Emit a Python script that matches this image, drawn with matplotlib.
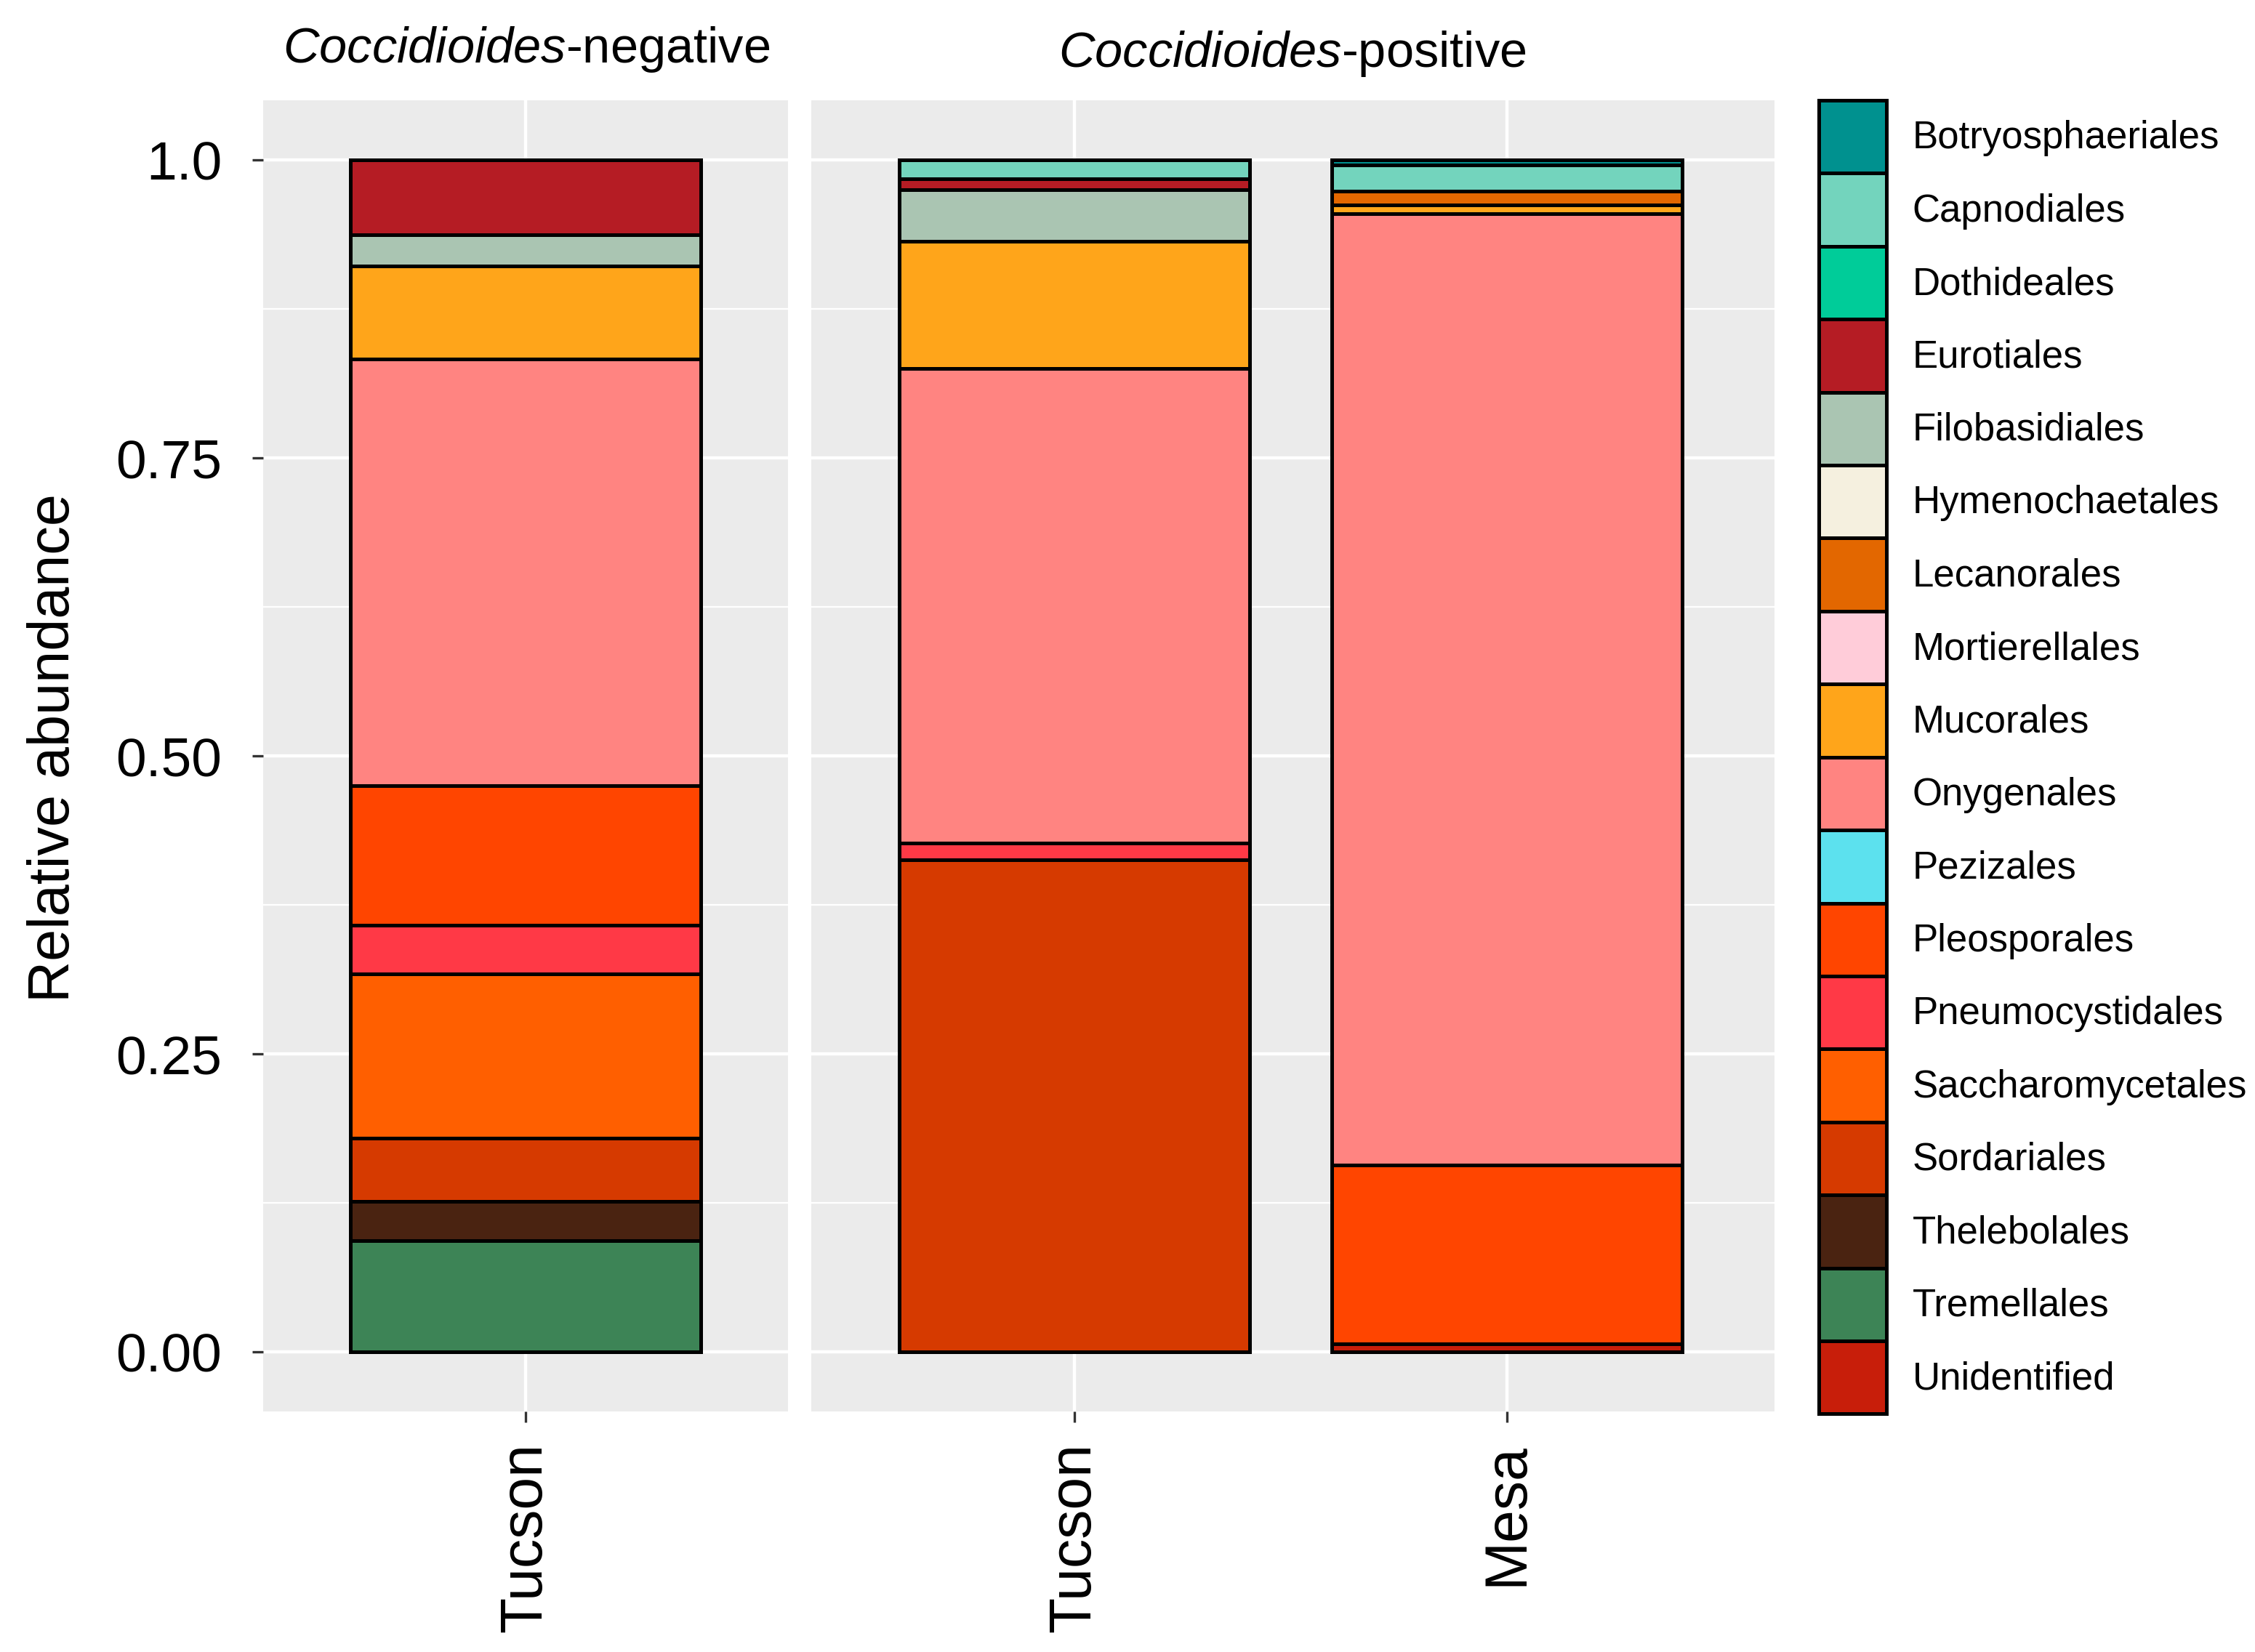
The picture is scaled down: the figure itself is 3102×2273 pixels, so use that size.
import matplotlib
matplotlib.use("Agg")
import matplotlib.pyplot as plt
from matplotlib.patches import Patch
from matplotlib.ticker import MultipleLocator
import numpy as np

plt.rcParams['font.family'] = ['Liberation Sans', 'DejaVu Sans']
plt.rcParams['mathtext.fontset'] = 'custom'
plt.rcParams['mathtext.it'] = 'Liberation Sans:italic'
plt.rcParams['mathtext.rm'] = 'Liberation Sans'

# fungal orders (legend order, first one sits on top of the stack)
orders = ["Botryosphaeriales", "Capnodiales", "Dothideales", "Eurotiales",
          "Filobasidiales", "Hymenochaetales", "Lecanorales", "Mortierellales",
          "Mucorales", "Onygenales", "Pezizales", "Pleosporales",
          "Pneumocystidales", "Saccharomycetales", "Sordariales",
          "Thelebolales", "Tremellales", "Unidentified"]
colours = ["#00918F", "#73D4BD", "#00CC99", "#B51C24", "#AAC5B2", "#F5F0DF",
           "#E36700", "#FFCCD9", "#FFA51A", "#FF8481", "#5CE1EE", "#FF4500",
           "#FF3946", "#FF5F00", "#D63A00", "#4A2311", "#3D8456", "#C81E0A"]

# relative abundance per sample, same order as above
neg_tucson = [0, 0, 0, 0.063, 0.026, 0, 0, 0, 0.078, 0.358, 0, 0.117,
              0.041, 0.138, 0.053, 0.033, 0.093, 0]
pos_tucson = [0, 0.016, 0, 0.009, 0.043, 0, 0, 0, 0.107, 0.398, 0, 0,
              0.014, 0, 0.413, 0, 0, 0]
pos_mesa = [0.004, 0.022, 0, 0, 0, 0, 0.012, 0, 0.007, 0.798, 0, 0.150,
            0, 0, 0, 0, 0, 0.007]

neg_sites = ["Tucson"]
pos_sites = ["Tucson", "Mesa"]

W, H = 3102, 2273
fig = plt.figure(figsize=(W/200, H/200), dpi=200)

def px_box(x0, x1, y0, y1):
    return [x0/W, 1-y1/H, (x1-x0)/W, (y1-y0)/H]

ax1 = fig.add_axes(px_box(362, 1084, 138, 1942))
ax2 = fig.add_axes(px_box(1116, 2441, 138, 1942))


def stack(ax, xpos, vals, width):
    bottom = 0
    # draw from the bottom of the stack (last order) upwards
    for i in range(len(orders)-1, -1, -1):
        v = vals[i]
        if v <= 0:
            continue
        ax.bar(xpos, v, width, bottom=bottom, color=colours[i],
               edgecolor="black", linewidth=1.8, zorder=3)
        bottom += v


stack(ax1, 0, neg_tucson, 0.9)
stack(ax2, 0, pos_tucson, 0.81)
stack(ax2, 1, pos_mesa, 0.81)

ax1.set_xlim(-0.674, 0.674)
ax2.set_xlim(-0.608, 1.618)

for ax in [ax1, ax2]:
    ax.set_facecolor("#EBEBEB")
    ax.set_ylim(-0.05, 1.05)
    ax.yaxis.set_major_locator(MultipleLocator(0.25))
    ax.yaxis.set_minor_locator(MultipleLocator(0.125))
    ax.grid(which="major", color="white", linewidth=1.6, zorder=0)
    ax.grid(which="minor", axis="y", color="white", linewidth=0.8, zorder=0)
    ax.set_axisbelow(True)
    for s in ax.spines.values():
        s.set_visible(False)
    ax.tick_params(axis="both", which="major", length=5.4, width=1.2,
                   color="#333333", labelsize=27, pad=15)
    ax.tick_params(axis="x", labelsize=29, pad=10)
    ax.tick_params(which="minor", length=0)

ax1.set_xticks([0])
ax1.set_xticklabels(neg_sites, rotation=90, va="top", ha="center")
ax2.set_xticks([0, 1])
ax2.set_xticklabels(pos_sites, rotation=90, va="top", ha="center")
ax1.set_yticks([0, 0.25, 0.5, 0.75, 1.0])
ax1.set_yticklabels(["0.00", "0.25", "0.50", "0.75", "1.0"])
ax2.tick_params(axis="y", which="both", left=False, labelleft=False)

fig.text(724/W, 1-68/H, r"$\it{Coccidioides}$-negative", fontsize=24.7,
         ha="center", va="center")
fig.text(1778/W, 1-74/H, r"$\it{Coccidioides}$-positive", fontsize=24.7,
         ha="center", va="center")
fig.text(75/W, 1-1029/H, "Relative abundance", fontsize=28.5, rotation=90,
         ha="center", va="center")

handles = [Patch(facecolor=c, edgecolor="black", linewidth=1.8) for c in colours]
fig.legend(handles, orders, loc="upper left",
           bbox_to_anchor=(2502/W, 1-138/H), frameon=False, fontsize=19,
           handlelength=1.76, handleheight=2.55, labelspacing=0,
           handletextpad=0.68, borderpad=0, borderaxespad=0)

fig.savefig("out.png", dpi=200)
